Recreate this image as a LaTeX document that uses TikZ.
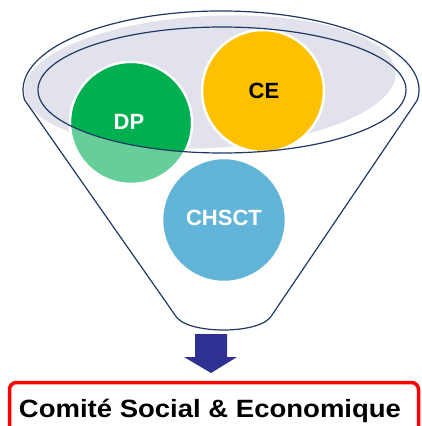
\documentclass[tikz,border=0pt]{standalone}
\usepackage{fontspec}
\setmainfont{Liberation Sans}
\usetikzlibrary{calc}
\definecolor{rimblue}{HTML}{1F3864}
\definecolor{bowl}{HTML}{E2E2EC}
\definecolor{dpgreen}{HTML}{00B050}
\definecolor{dplight}{HTML}{66CF99}
\definecolor{ceyellow}{HTML}{FFC000}
\definecolor{chblue}{HTML}{62B5D8}
\definecolor{arrowblue}{HTML}{2E3192}
\newcommand{\disc}[4]{\filldraw[fill=#4, draw=white, line width=2.5pt] ( #1 , #2 ) circle ( #3 );}
\tikzset{disctext/.style={font=\bfseries\fontsize{22}{26}\selectfont}}

\begin{document}
\begin{tikzpicture}[x=1pt, y=-1pt]
        \useasboundingbox (0,0) rectangle (421,426);
        % inside of the bowl
        \fill[bowl, rotate around={3:(210,82)}] (210,82) ellipse (186 and 66);
        % DP, lighter below the rim
        \disc{131}{123}{61}{dplight}
        \begin{scope}
            \clip (222,90) ellipse (184 and 63);
            \fill[dpgreen] (131,123) circle (59.7);
        \end{scope}
        % CE
        \disc{263}{91}{61}{ceyellow}
        % CHSCT
        \disc{224}{220}{62}{chblue}
        \node[disctext, text=white] (dp) at (129,122) {DP};
        \node[disctext, text=black] (ce) at (264,91) {CE};
        \node[disctext, text=white] (chsct) at (224,218) {CHSCT};
        % funnel
        \draw[rimblue, line width=1.2pt] (24.6,100) -- (175,315)
            .. controls (185,335) and (262,335) .. (272,315) -- (417.4,100)
            arc[start angle=7.3, end angle=-187.3, x radius=198, y radius=79];
        \draw[rimblue, line width=1.2pt] (222,90) ellipse (184 and 63);
        % arrow
        \fill[arrowblue] (195,334) -- (227,334) -- (227,357) -- (237,357)
            -- (211,373) -- (184,357) -- (195,357) -- cycle;
        % result
        \draw[red, line width=3.5pt, rounded corners=7pt] (9.5,382.5) rectangle (418.5,440);
        \node[anchor=base, xscale=1.1, font=\bfseries\fontsize{25}{30}\selectfont] (cse) at (210,417) {Comité Social \& Economique};
\end{tikzpicture}
\end{document}
